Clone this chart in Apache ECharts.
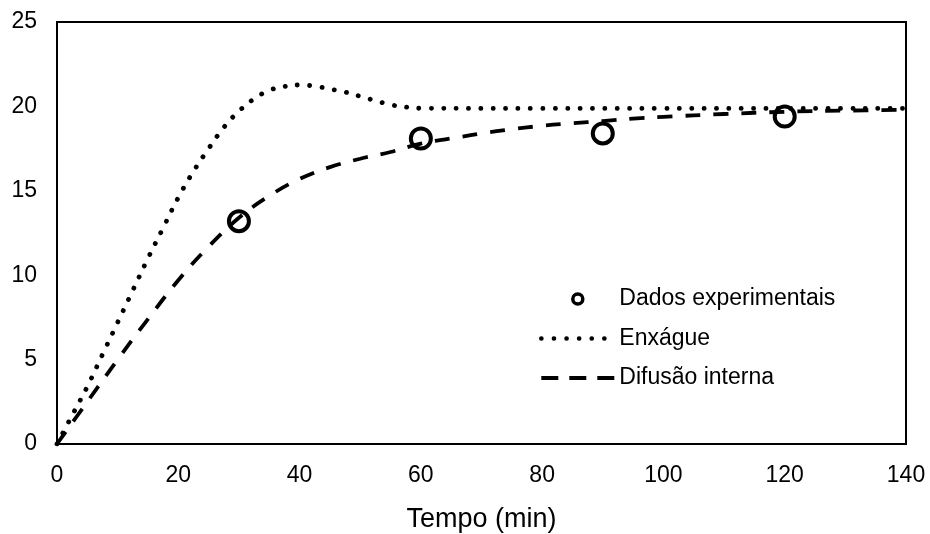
<!DOCTYPE html>
<html>
<head>
<meta charset="utf-8">
<script src="https://cdn.jsdelivr.net/npm/echarts@6/dist/echarts.min.js"></script>
<style>
	html, body { margin: 0; padding: 0; background: #fff; }
	#chart { width: 930px; height: 534px; }
</style>
</head>
<body>
<div id="chart"></div>
<script>
// dados
var tempoExp = [30, 60, 90, 120];
var valorExp = [13.2, 18.1, 18.4, 19.4];

var tempoEnx = [0, 2.5, 5, 7.5, 10, 12.5, 15, 17.5, 20, 22.5, 25, 27.5, 30, 32.5, 35, 37.5, 40, 42.5, 45, 47.5, 50, 52.5, 55, 57.5, 60, 80, 100, 120, 140];
var valorEnx = [0, 1.7, 3.4, 5.3, 7.2, 9.1, 11.0, 12.8, 14.6, 16.15, 17.5, 18.75, 19.72, 20.45, 20.95, 21.18, 21.27, 21.2, 21.03, 20.85, 20.6, 20.34, 20.1, 19.96, 19.89, 19.88, 19.88, 19.88, 19.88];

var tempoDif = [0, 5, 10, 15, 20, 25, 30, 35, 40, 45, 50, 55, 60, 65, 70, 75, 80, 85, 90, 95, 100, 110, 120, 130, 140];
var valorDif = [0, 2.5, 5.0, 7.4, 9.7, 11.7, 13.4, 14.7, 15.7, 16.4, 16.9, 17.3, 17.8, 18.1, 18.4, 18.65, 18.85, 19.0, 19.13, 19.28, 19.38, 19.55, 19.68, 19.75, 19.8];

var nomes = ['Dados experimentais', 'Enxágue', 'Difusão interna'];

function pares(xs, ys) {
	return xs.map(function(x, i) { return [x, ys[i]]; });
}

var fonte = "'Liberation Sans', Arial, sans-serif";
var semSimbolo = { color: 'rgba(0,0,0,0)', borderWidth: 0 };
var myChart = echarts.init(document.getElementById('chart'));
var option = {
	backgroundColor: '#fff',
	animation: false,
	textStyle: { fontFamily: fonte },
	grid: {
		left: 57, right: 24, top: 22, bottom: 90,
		outerBoundsMode: 'none',
		containLabel: false,
		show: true,
		borderColor: '#000',
		borderWidth: 2
	},
	legend: {
		orient: 'vertical',
		left: 539,
		top: 287,
		padding: 0,
		itemWidth: 73,
		itemHeight: 10,
		itemGap: 15.5,
		textStyle: {
			fontSize: 23,
			lineHeight: 24,
			color: '#000',
			fontFamily: fonte
		},
		data: [
			{ name: nomes[0], itemStyle: { color: 'rgba(0,0,0,0)', borderColor: '#000', borderWidth: 3.5, opacity: 1 } },
			{ name: nomes[1], itemStyle: semSimbolo, lineStyle: { color: '#000', width: 4.6, type: [0.1, 12.5], cap: 'round' } },
			{ name: nomes[2], itemStyle: semSimbolo, lineStyle: { color: '#000', width: 3.8, type: [17, 11], cap: 'butt' } }
		]
	},
	xAxis: {
		type: 'value',
		min: 0, max: 140, interval: 20,
		name: 'Tempo (min)',
		nameLocation: 'middle',
		nameGap: 62,
		nameTextStyle: { fontSize: 27, color: '#000', fontFamily: fonte },
		axisLine: { show: true, lineStyle: { color: '#000', width: 2 } },
		axisTick: { show: false },
		splitLine: { show: false },
		axisLabel: { fontSize: 23, color: '#000', margin: 20, fontFamily: fonte }
	},
	yAxis: {
		type: 'value',
		min: 0, max: 25, interval: 5,
		axisLine: { show: true, lineStyle: { color: '#000', width: 2 } },
		axisTick: { show: false },
		splitLine: { show: false },
		axisLabel: { fontSize: 23, color: '#000', margin: 20, padding: [3, 0, 0, 0], fontFamily: fonte }
	},
	series: [{
		name: nomes[0],
		type: 'scatter',
		symbol: 'circle',
		symbolSize: 20,
		z: 5,
		itemStyle: { color: 'rgba(0,0,0,0)', borderColor: '#000', borderWidth: 4, opacity: 1 },
		data: pares(tempoExp, valorExp)
	}, {
		name: nomes[1],
		type: 'line',
		symbol: 'none',
		smooth: 0.4,
		itemStyle: { color: '#000' },
		lineStyle: { color: '#000', width: 4.8, type: [0.1, 12.3], cap: 'round' },
		data: pares(tempoEnx, valorEnx)
	}, {
		name: nomes[2],
		type: 'line',
		symbol: 'none',
		smooth: 0.4,
		itemStyle: { color: '#000' },
		lineStyle: { color: '#000', width: 3.8, type: [15, 13], cap: 'butt' },
		data: pares(tempoDif, valorDif)
	}]
};
myChart.setOption(option);
</script>
</body>
</html>
